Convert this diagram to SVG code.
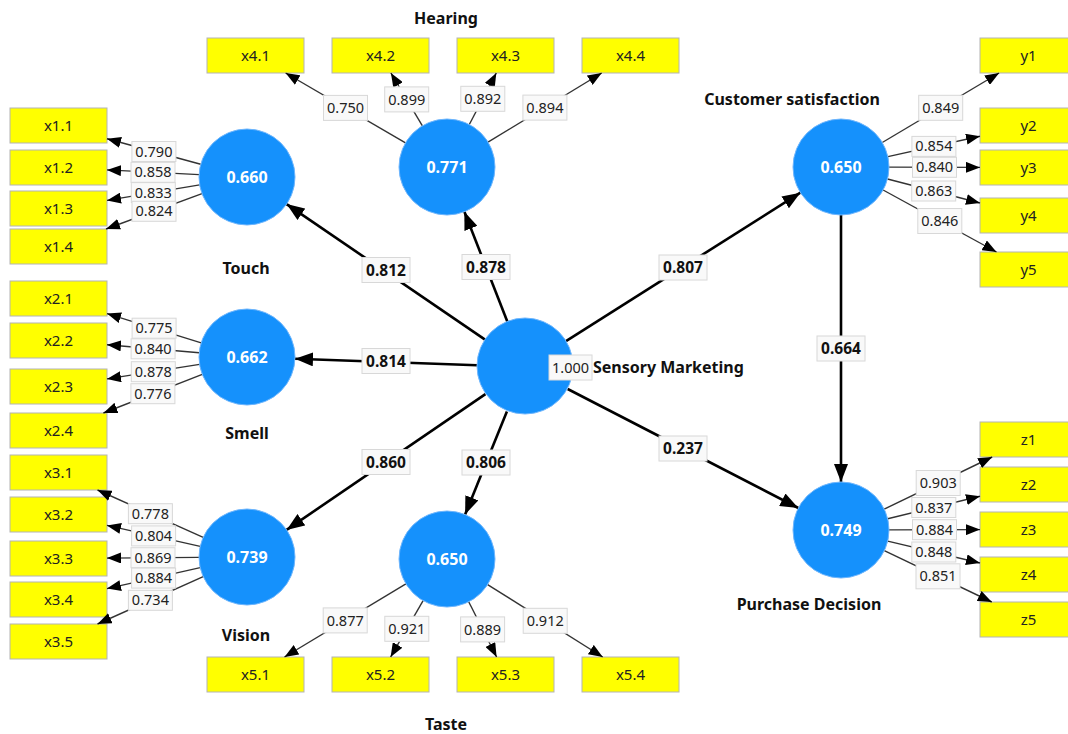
<svg xmlns="http://www.w3.org/2000/svg" width="1068" height="734" viewBox="0 0 1068 734">
<style>
.ind rect{fill:#ffff00;stroke:#b4b4b4;stroke-width:1}
.ind text{font-family:"Noto Sans","Liberation Sans",sans-serif;font-size:15px;fill:#222;text-anchor:middle}
.lv circle{fill:#1591fc;stroke:#6fb6fd;stroke-width:1}
.val{font-family:"Noto Sans","Liberation Sans",sans-serif;font-size:16px;font-weight:bold;fill:#fff;text-anchor:middle}
.name{font-family:"Noto Sans","Liberation Sans",sans-serif;font-size:16px;font-weight:bold;fill:#111;text-anchor:middle}
.load{stroke:#333;stroke-width:1.4;fill:none;marker-end:url(#ah)}
.path{stroke:#000;stroke-width:2.6;fill:none;marker-end:url(#ahb)}
.lbl rect{fill:#f9f9f9;stroke:#d8d8d8;stroke-width:1}
.lbl text{font-family:"Noto Sans","Liberation Sans",sans-serif;font-size:14.5px;fill:#222;text-anchor:middle}
.plbl rect{fill:#f9f9f9;stroke:#d8d8d8;stroke-width:1}
.plbl text{font-family:"Noto Sans","Liberation Sans",sans-serif;font-size:15.5px;font-weight:bold;fill:#111;text-anchor:middle}
</style>
<defs>
<marker id="ah" markerUnits="userSpaceOnUse" markerWidth="14" markerHeight="11" refX="14" refY="5.5" orient="auto"><path d="M0,0 L14,5.5 L0,11 z" fill="#000"/></marker>
<marker id="ahb" markerUnits="userSpaceOnUse" markerWidth="18" markerHeight="14" refX="18" refY="7" orient="auto"><path d="M0,0 L18,7 L0,14 z" fill="#000"/></marker>
</defs>
<rect width="1068" height="734" fill="#fff"/>

<g id="indicators">
<g id="x1.1" class="ind"><rect x="10" y="108" width="97" height="35"/><text x="58.5" y="131">x1.1</text></g>
<g id="x1.2" class="ind"><rect x="10" y="150" width="97" height="35"/><text x="58.5" y="173">x1.2</text></g>
<g id="x1.3" class="ind"><rect x="10" y="191" width="97" height="35"/><text x="58.5" y="214">x1.3</text></g>
<g id="x1.4" class="ind"><rect x="10" y="229" width="97" height="35"/><text x="58.5" y="252">x1.4</text></g>
<g id="x2.1" class="ind"><rect x="10" y="281" width="97" height="35"/><text x="58.5" y="304">x2.1</text></g>
<g id="x2.2" class="ind"><rect x="10" y="323" width="97" height="35"/><text x="58.5" y="346">x2.2</text></g>
<g id="x2.3" class="ind"><rect x="10" y="369" width="97" height="35"/><text x="58.5" y="392">x2.3</text></g>
<g id="x2.4" class="ind"><rect x="10" y="413" width="97" height="35"/><text x="58.5" y="436">x2.4</text></g>
<g id="x3.1" class="ind"><rect x="10" y="455" width="97" height="35"/><text x="58.5" y="478">x3.1</text></g>
<g id="x3.2" class="ind"><rect x="10" y="497" width="97" height="35"/><text x="58.5" y="520">x3.2</text></g>
<g id="x3.3" class="ind"><rect x="10" y="541" width="97" height="35"/><text x="58.5" y="564">x3.3</text></g>
<g id="x3.4" class="ind"><rect x="10" y="582" width="97" height="35"/><text x="58.5" y="605">x3.4</text></g>
<g id="x3.5" class="ind"><rect x="10" y="624" width="97" height="35"/><text x="58.5" y="647">x3.5</text></g>
<g id="x4.1" class="ind"><rect x="207" y="38" width="97" height="35"/><text x="255.5" y="61">x4.1</text></g>
<g id="x4.2" class="ind"><rect x="332" y="38" width="97" height="35"/><text x="380.5" y="61">x4.2</text></g>
<g id="x4.3" class="ind"><rect x="457" y="38" width="97" height="35"/><text x="505.5" y="61">x4.3</text></g>
<g id="x4.4" class="ind"><rect x="582" y="38" width="97" height="35"/><text x="630.5" y="61">x4.4</text></g>
<g id="x5.1" class="ind"><rect x="207" y="657" width="97" height="35"/><text x="255.5" y="680">x5.1</text></g>
<g id="x5.2" class="ind"><rect x="332" y="657" width="97" height="35"/><text x="380.5" y="680">x5.2</text></g>
<g id="x5.3" class="ind"><rect x="457" y="657" width="97" height="35"/><text x="505.5" y="680">x5.3</text></g>
<g id="x5.4" class="ind"><rect x="582" y="657" width="97" height="35"/><text x="630.5" y="680">x5.4</text></g>
<g id="y1" class="ind"><rect x="980" y="38" width="97" height="35"/><text x="1028.5" y="61">y1</text></g>
<g id="y2" class="ind"><rect x="980" y="108" width="97" height="35"/><text x="1028.5" y="131">y2</text></g>
<g id="y3" class="ind"><rect x="980" y="150" width="97" height="35"/><text x="1028.5" y="173">y3</text></g>
<g id="y4" class="ind"><rect x="980" y="198" width="97" height="35"/><text x="1028.5" y="221">y4</text></g>
<g id="y5" class="ind"><rect x="980" y="252" width="97" height="35"/><text x="1028.5" y="275">y5</text></g>
<g id="z1" class="ind"><rect x="980" y="422" width="97" height="35"/><text x="1028.5" y="445">z1</text></g>
<g id="z2" class="ind"><rect x="980" y="467" width="97" height="35"/><text x="1028.5" y="490">z2</text></g>
<g id="z3" class="ind"><rect x="980" y="512" width="97" height="35"/><text x="1028.5" y="535">z3</text></g>
<g id="z4" class="ind"><rect x="980" y="557" width="97" height="35"/><text x="1028.5" y="580">z4</text></g>
<g id="z5" class="ind"><rect x="980" y="602" width="97" height="35"/><text x="1028.5" y="625">z5</text></g>
</g>

<g id="connectors">
<g id="loadings">
<line class="load" x1="200.7" y1="164.3" x2="107" y2="138.7"/>
<line class="load" x1="199.1" y1="174.6" x2="107" y2="169.9"/>
<line class="load" x1="199.7" y1="184.9" x2="107" y2="200.4"/>
<line class="load" x1="202" y1="193.6" x2="106" y2="229"/>
<line class="load" x1="201.2" y1="342.8" x2="107" y2="313.6"/>
<line class="load" x1="199.2" y1="352.8" x2="107" y2="344.7"/>
<line class="load" x1="199.6" y1="364.4" x2="107" y2="378.9"/>
<line class="load" x1="202.3" y1="374.4" x2="103.4" y2="413"/>
<line class="load" x1="203.2" y1="537.4" x2="97.5" y2="490"/>
<line class="load" x1="200.2" y1="546.4" x2="107" y2="525.4"/>
<line class="load" x1="199" y1="557.4" x2="107" y2="558.1"/>
<line class="load" x1="200.2" y1="567.6" x2="107" y2="588.6"/>
<line class="load" x1="203.2" y1="576.6" x2="97.5" y2="624"/>
<line class="load" x1="405.5" y1="142.8" x2="285.6" y2="73"/>
<line class="load" x1="422.4" y1="125.8" x2="390.9" y2="73"/>
<line class="load" x1="469.3" y1="124.5" x2="496.3" y2="73"/>
<line class="load" x1="488" y1="142.1" x2="601.7" y2="73"/>
<line class="load" x1="405.9" y1="583.8" x2="284.5" y2="657"/>
<line class="load" x1="423.1" y1="600.6" x2="390.6" y2="657"/>
<line class="load" x1="468.7" y1="601.8" x2="496.6" y2="657"/>
<line class="load" x1="487.6" y1="584.6" x2="602.7" y2="657"/>
<line class="load" x1="882.3" y1="142.5" x2="999.1" y2="73"/>
<line class="load" x1="887.9" y1="156.6" x2="980" y2="136.2"/>
<line class="load" x1="889" y1="167.1" x2="980" y2="167.4"/>
<line class="load" x1="887.5" y1="179" x2="980" y2="203"/>
<line class="load" x1="883.1" y1="190" x2="996.5" y2="252"/>
<line class="load" x1="884.2" y1="509.1" x2="992.2" y2="457"/>
<line class="load" x1="887.7" y1="518.7" x2="980" y2="496.3"/>
<line class="load" x1="889" y1="529.9" x2="980" y2="529.6"/>
<line class="load" x1="887.7" y1="541.1" x2="980" y2="563"/>
<line class="load" x1="884.3" y1="550.7" x2="991.8" y2="602"/>
</g>
<g id="paths">
<line class="path" x1="485.4" y1="339.9" x2="286.6" y2="204.1"/>
<line class="path" x1="507.6" y1="322.3" x2="464.4" y2="211.7"/>
<line class="path" x1="477" y1="365.3" x2="295" y2="358.7"/>
<line class="path" x1="485.4" y1="394.1" x2="286.6" y2="529.9"/>
<line class="path" x1="506.9" y1="411.5" x2="465.1" y2="514.5"/>
<line class="path" x1="565.6" y1="341.3" x2="800.4" y2="192.7"/>
<line class="path" x1="567.7" y1="389" x2="798.3" y2="508"/>
<line class="path" x1="841" y1="215" x2="841" y2="482"/>
</g>
<g id="loading-labels" class="lbl">
<rect x="131.9" y="141.5" width="44" height="20"/><text x="153.9" y="156.5">0.790</text>
<rect x="131" y="162.3" width="44" height="20"/><text x="153" y="177.3">0.858</text>
<rect x="131.3" y="182.6" width="44" height="20"/><text x="153.3" y="197.6">0.833</text>
<rect x="132" y="201.3" width="44" height="20"/><text x="154" y="216.3">0.824</text>
<rect x="132.1" y="318.2" width="44" height="20"/><text x="154.1" y="333.2">0.775</text>
<rect x="131.1" y="338.8" width="44" height="20"/><text x="153.1" y="353.8">0.840</text>
<rect x="131.3" y="361.7" width="44" height="20"/><text x="153.3" y="376.7">0.878</text>
<rect x="130.9" y="383.7" width="44" height="20"/><text x="152.9" y="398.7">0.776</text>
<rect x="128.4" y="503.7" width="44" height="20"/><text x="150.4" y="518.7">0.778</text>
<rect x="131.6" y="525.9" width="44" height="20"/><text x="153.6" y="540.9">0.804</text>
<rect x="131" y="547.7" width="44" height="20"/><text x="153" y="562.7">0.869</text>
<rect x="131.6" y="568.1" width="44" height="20"/><text x="153.6" y="583.1">0.884</text>
<rect x="128.4" y="590.3" width="44" height="20"/><text x="150.4" y="605.3">0.734</text>
<rect x="323.5" y="95.4" width="44" height="25"/><text x="345.5" y="113">0.750</text>
<rect x="384.7" y="86.9" width="44" height="25"/><text x="406.7" y="104.5">0.899</text>
<rect x="460.8" y="86.3" width="44" height="25"/><text x="482.8" y="103.9">0.892</text>
<rect x="522.9" y="95.1" width="44" height="25"/><text x="544.9" y="112.7">0.894</text>
<rect x="323.2" y="607.9" width="44" height="25"/><text x="345.2" y="625.5">0.877</text>
<rect x="384.8" y="616.3" width="44" height="25"/><text x="406.8" y="633.9">0.921</text>
<rect x="460.6" y="616.9" width="44" height="25"/><text x="482.6" y="634.5">0.889</text>
<rect x="523.2" y="608.3" width="44" height="25"/><text x="545.2" y="625.9">0.912</text>
<rect x="918.7" y="95.3" width="44" height="25"/><text x="940.7" y="112.9">0.849</text>
<rect x="911.9" y="136.4" width="44" height="20"/><text x="933.9" y="151.4">0.854</text>
<rect x="912.5" y="157.3" width="44" height="20"/><text x="934.5" y="172.3">0.840</text>
<rect x="911.7" y="181" width="44" height="20"/><text x="933.7" y="196">0.863</text>
<rect x="917.8" y="208.5" width="44" height="25"/><text x="939.8" y="226.1">0.846</text>
<rect x="916.2" y="470.5" width="44" height="25"/><text x="938.2" y="488.1">0.903</text>
<rect x="911.8" y="497.5" width="44" height="20"/><text x="933.8" y="512.5">0.837</text>
<rect x="912.5" y="519.7" width="44" height="20"/><text x="934.5" y="534.7">0.884</text>
<rect x="911.8" y="542" width="44" height="20"/><text x="933.8" y="557">0.848</text>
<rect x="916" y="563.8" width="44" height="25"/><text x="938" y="581.4">0.851</text>
</g>
<g id="path-labels" class="plbl">
<rect x="362" y="257.5" width="48" height="25"/><text x="386" y="275.5">0.812</text>
<rect x="462" y="254.5" width="48" height="25"/><text x="486" y="272.5">0.878</text>
<rect x="362" y="348.5" width="48" height="25"/><text x="386" y="366.5">0.814</text>
<rect x="362" y="449.5" width="48" height="25"/><text x="386" y="467.5">0.860</text>
<rect x="462" y="450" width="48" height="25"/><text x="486" y="468">0.806</text>
<rect x="659" y="255" width="48" height="25"/><text x="683" y="273">0.807</text>
<rect x="659" y="436" width="48" height="25"/><text x="683" y="454">0.237</text>
<rect x="817" y="336" width="48" height="25"/><text x="841" y="354">0.664</text>
</g>
</g>

<g id="Touch" class="lv"><circle cx="247" cy="177" r="48"/><text class="val" x="247" y="182.5">0.660</text><text class="name" x="246" y="274">Touch</text></g>
<g id="Hearing" class="lv"><circle cx="447" cy="167" r="48"/><text class="val" x="447" y="172.5">0.771</text><text class="name" x="446" y="24">Hearing</text></g>
<g id="Smell" class="lv"><circle cx="247" cy="357" r="48"/><text class="val" x="247" y="362.5">0.662</text><text class="name" x="247" y="439">Smell</text></g>
<g id="Vision" class="lv"><circle cx="247" cy="557" r="48"/><text class="val" x="247" y="562.5">0.739</text><text class="name" x="246" y="641">Vision</text></g>
<g id="Taste" class="lv"><circle cx="447" cy="559" r="48"/><text class="val" x="447" y="564.5">0.650</text><text class="name" x="446" y="730">Taste</text></g>
<g id="CustomerSatisfaction" class="lv"><circle cx="841" cy="167" r="48"/><text class="val" x="841" y="172.5">0.650</text><text class="name" x="792" y="105">Customer satisfaction</text></g>
<g id="PurchaseDecision" class="lv"><circle cx="841" cy="530" r="48"/><text class="val" x="841" y="535.5">0.749</text><text class="name" x="809" y="610">Purchase Decision</text></g>
<g id="SensoryMarketing" class="lv"><circle cx="525" cy="366" r="48"/>
<g class="lbl"><rect x="549" y="355" width="43" height="25"/><text x="570.5" y="372.5">1.000</text></g>
<text class="name" x="593" y="373" style="text-anchor:start">Sensory Marketing</text></g>
</svg>
